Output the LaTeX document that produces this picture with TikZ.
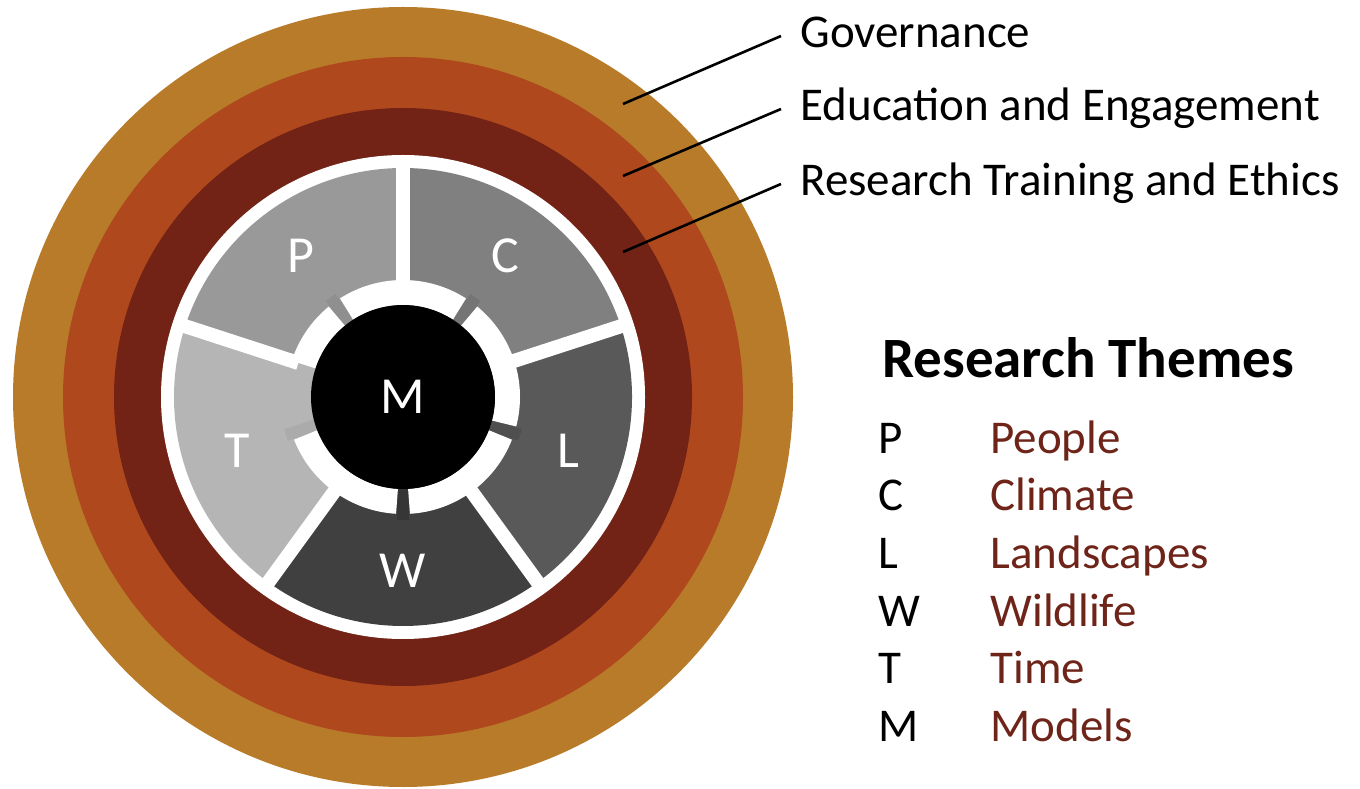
\documentclass[tikz,border=0pt]{standalone}
\usepackage{fontspec}
\setmainfont{Carlito}
\definecolor{govgold}{RGB}{184,123,42}
\definecolor{eduorange}{RGB}{176,72,29}
\definecolor{rtered}{RGB}{114,35,22}
\definecolor{themered}{RGB}{110,36,24}
\begin{document}
\begin{tikzpicture}[x=0.5pt, y=0.5pt, font=\fontsize{23.5}{28}\selectfont,
    leader/.style={line width=1.3pt},
    ringlbl/.style={anchor=west, inner xsep=9.5pt, inner ysep=0pt, text height=15pt, text depth=3pt},
    seglbl/.style={text=white, inner sep=0pt, font=\fontsize{26}{30}\selectfont},
    keylbl/.style={anchor=base west, inner sep=0pt}]
  \useasboundingbox (0,0) rectangle (1360,788);
  \coordinate (c) at (403,391);
  % the three rings
  \fill[govgold] (c) circle[radius=390];
  \fill[eduorange] (c) circle[radius=340];
  \fill[rtered] (c) circle[radius=289];
  \fill[white] (c) circle[radius=242];
  % theme segments: mid angle / grey level / letter
  \foreach \mid/\sh/\ltr in {126/40/P, 54/50/C, -18/65/L, -90/75/W, 198/29/T} {
    \pgfmathtruncatemacro\dk{\sh+4}
    \fill[black!\sh] (c) -- ++(\mid-36:229) arc[start angle=\mid-36, end angle=\mid+36, radius=229] -- cycle;
    \draw[black!\dk, line width=6pt] (c) ++(\mid:90) -- ++(\mid:33);
    \draw[white, line width=12.5pt] (c) ++(\mid+3.3:104.5) arc[start angle=\mid+3.3, end angle=\mid+68.7, radius=104.5];
    \path (c) ++(\mid:174) node[seglbl] (seg-\ltr) {\ltr};
  }
  \foreach \a in {18,90,162,234,306}
    \draw[white, line width=7pt] (c) ++(\a:110) -- ++(\a:126);
  \node[circle, fill=black, minimum size=92pt, inner sep=0pt, text=white, font=\fontsize{26}{30}\selectfont] (M) at (c) {M};
  % ring labels and leaders
  \node[ringlbl] (gov) at (781,752) {Governance};
  \node[ringlbl] (edu) at (781,679) {Education and Engagement};
  \node[ringlbl] (rte) at (781,604) {Research Training and Ethics};
  \coordinate (gov-in) at (623,684);
  \coordinate (edu-in) at (623,612);
  \coordinate (rte-in) at (623,536);
  \draw[leader] (gov-in) -- (gov.west);
  \draw[leader] (edu-in) -- (edu.west);
  \draw[leader] (rte-in) -- (rte.west);
  % legend
  \node[keylbl, font=\bfseries\fontsize{28.5}{32}\selectfont] (themes) at (882,410) {Research Themes};
  \foreach \ltr/\name [count=\k from 0] in {P/People, C/Climate, L/Landscapes, W/Wildlife, T/Time, M/Models} {
    \node[keylbl] (key-\ltr) at (878, 335-57.7*\k) {\ltr};
    \node[keylbl, text=themered] (theme-\ltr) at (990, 335-57.7*\k) {\name};
  }
\end{tikzpicture}
\end{document}
